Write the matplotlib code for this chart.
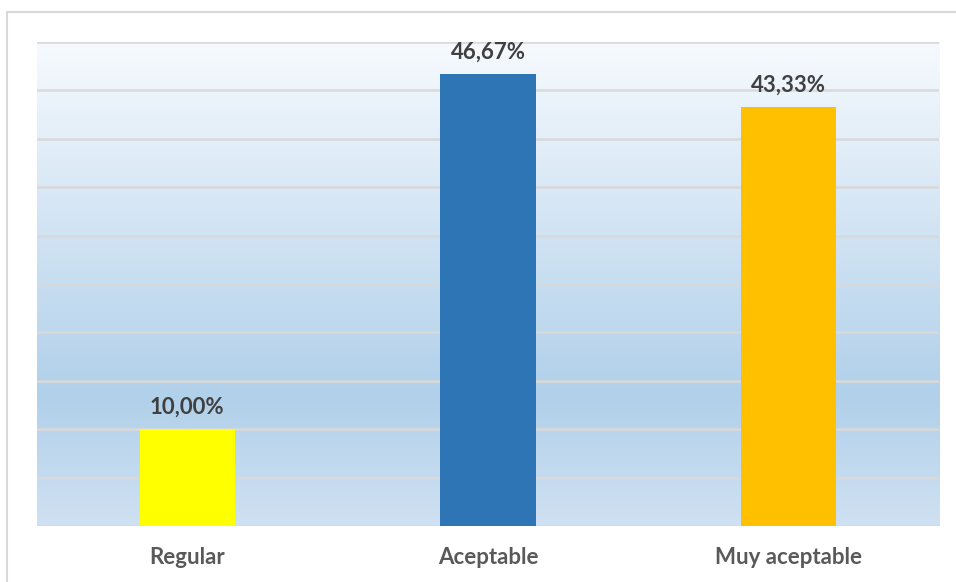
import numpy as np
import matplotlib
matplotlib.use("Agg")
import matplotlib.pyplot as plt
from matplotlib.colors import LinearSegmentedColormap
from matplotlib.lines import Line2D

categories = ["Regular", "Aceptable", "Muy aceptable"]
values = [10.00, 46.67, 43.33]
labels = ["10,00%", "46,67%", "43,33%"]
colors = ["#FFFF00", "#2E75B6", "#FFC000"]

W, H = 956, 582
fig = plt.figure(figsize=(W / 100, H / 100), dpi=100)
fig.patch.set_facecolor("white")

# outer chart border
fig.add_artist(Line2D([7 / W, 7 / W], [0, 1 - 12 / H], color="#D9D9D9", lw=1.5, transform=fig.transFigure))
fig.add_artist(Line2D([7 / W, 1], [1 - 12 / H, 1 - 12 / H], color="#D9D9D9", lw=1.5, transform=fig.transFigure))

ax = fig.add_axes([37 / W, 56 / H, (939 - 37) / W, (526 - 42) / H])
ax.set_xlim(-0.5, 2.5)
ax.set_ylim(0, 50)

# gradient background
cmap = LinearSegmentedColormap.from_list(
    "bg", [(0.0, "#CFE1F2"), (0.27, "#B1D0EA"), (1.0, "#F6FAFE")])
grad = np.linspace(0, 1, 256).reshape(-1, 1)
ax.imshow(grad, cmap=cmap, origin="lower", extent=[-0.5, 2.5, 0, 50],
          aspect="auto", zorder=0, interpolation="bilinear")

for yv in np.arange(0, 51, 5):
    ax.axhline(yv, color="#D9D9D9", lw=1.8, zorder=1)

x = np.arange(len(categories))
ax.bar(x, values, width=0.316, color=colors, zorder=2)

for xi, v, lab in zip(x, values, labels):
    ax.annotate(lab, (xi, v), xytext=(0, 8), textcoords="offset points",
                ha="center", va="bottom", fontsize=16, fontweight="bold",
                color="#404040", family="Lato")

ax.set_xticks(x)
ax.set_xticklabels(categories, fontsize=16, fontweight="bold", color="#595959", family="Lato")
ax.tick_params(axis="x", length=0, pad=15)
ax.set_yticks([])
for s in ax.spines.values():
    s.set_visible(False)

fig.savefig("out.png", dpi=100)
